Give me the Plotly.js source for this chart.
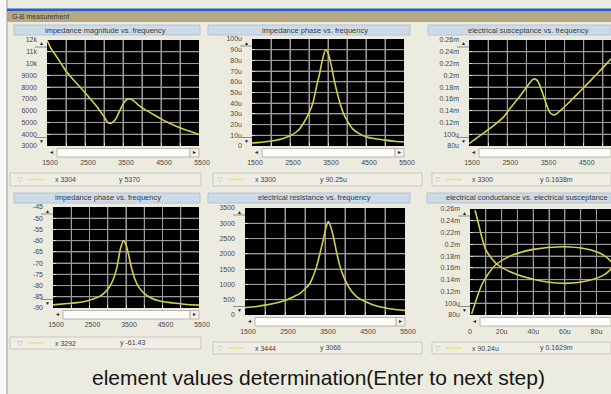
<!DOCTYPE html>
<html><head><meta charset="utf-8">
<script src="https://cdn.plot.ly/plotly-3.0.1.min.js"></script>
<style>html,body{margin:0;padding:0;background:#ecebdf;overflow:hidden}#chart{width:611px;height:394px}</style>
</head><body><div id="chart"></div>
<script>
// ---------- data ----------
// panel 1: impedance magnitude (ohm) vs frequency (Hz)
const freq1 = [1500,1600,1750,1900,2000,2200,2400,2600,2800,3000,3100,3150,3200,3300,3400,3500,3600,3650,3700,3800,3900,4100,4300,4500,4700,4900,5100,5300,5500];
const zmag  = [12000,11300,10600,9850,9370,8600,7900,7150,6400,5500,5000,4920,4950,5250,5900,6550,6950,7000,6980,6780,6500,6050,5680,5300,4970,4680,4430,4200,3970];
// panel 2: values in micro units vs frequency
const freq2 = [1500,1800,2100,2300,2500,2700,2850,3000,3100,3200,3275,3350,3440,3500,3575,3650,3725,3800,3900,4000,4150,4300,4500,4700,5000,5250,5500];
const cond2 = [2.8,3.8,5.2,6.8,9.5,14,21,31,40,56,67,80,90,87,77,64,52,42,31,24,16,12,8.7,7,5.5,4.5,3.8];
// panel 3: electrical susceptance (micro S) vs frequency
const freq3 = [1500,1800,2100,2400,2600,2800,2950,3050,3150,3200,3250,3300,3350,3450,3550,3625,3700,3775,3900,4100,4300,4600,4900,5200,5500];
const susc3 = [84,98,112.5,129,146,162,175,184,192,194,193,190,183,165,146,136,133,134,141,153,166,186,206,227,248];
// panel 4: impedance phase (deg) vs frequency
const freq4 = [1500,1900,2300,2600,2800,2950,3060,3150,3250,3350,3430,3500,3560,3650,3740,3840,4000,4160,4400,4800,5100,5500];
const phase4 = [-88.6,-88.0,-87.3,-86.0,-84.6,-82.6,-80.2,-77.3,-72,-63.5,-60,-61.8,-65.5,-72,-77,-80.5,-83.5,-85.3,-86.8,-87.8,-88.3,-88.7];
// panel 5: electrical resistance (ohm) vs frequency
const freq5 = [1500,1800,2040,2300,2540,2700,2875,3000,3125,3200,3290,3380,3460,3530,3583,3640,3710,3790,3875,3960,4040,4150,4290,4500,4710,5000,5210,5500];
const res5  = [240,280,330,400,490,590,710,850,1040,1250,1590,2050,2480,2880,3060,2900,2550,2050,1590,1270,1040,800,600,440,330,240,190,150];
// panel 6: conductance (x, micro S) vs susceptance (y, micro S), along the trace
const cond6 = [1.0,2.5,4.6,7.4,11,16.8,25.3,40,59,73.7,84.2,90.5,85.3,73.7,59,40,25.3,16.8,13.7,10.1,7.4,5.3,3.2];
const susc6 = [81.7,94,111,131,148,166.6,180,191.5,196,192,182,165,149,137.7,133.8,140.6,153.5,166.6,176,190,213,235.7,258];

// tick labels
const fTicks = [1500,2000,2500,3000,3500,4000,4500,5000,5500];
const fText  = ['1500','','2500','','3500','','4500','','5500'];
const y1Ticks = [3000,4000,5000,6000,7000,8000,9000,10000,11000,12000];
const y1Text  = ['3000','4000','5000','6000','7000','8000','9000','10k','11k','12k'];
const y2Ticks = [0,10,20,30,40,50,60,70,80,90,100];
const y2Text  = ['0','10u','20u','30u','40u','50u','60u','70u','80u','90u','100u'];
const y3Ticks = [80,100,120,140,160,180,200,220,240,260];
const y3Text  = ['80u','100u','0.12m','0.14m','0.16m','0.18m','0.2m','0.22m','0.24m','0.26m'];
const y4Ticks = [-90,-85,-80,-75,-70,-65,-60,-55,-50,-45];
const y4Text  = ['-90','-85','-80','-75','-70','-65','-60','-55','-50','-45'];
const y5Ticks = [0,500,1000,1500,2000,2500,3000,3500];
const y5Text  = ['0','500','1000','1500','2000','2500','3000','3500'];
const x6Ticks = [0,10,20,30,40,50,60,70,80,90];
const x6Text  = ['0','','20u','','40u','','60u','','80u',''];

const titles = ['impedance magnitude vs. frequency','impedance phase vs. frequency','electrical susceptance vs. frequency',
                'impedance phase vs. frequency','electrical resistance vs. frequency','electrical conductance vs. electrical susceptance'];
const statusX = ['x 3304','x 3300','x 3300','x 3292','x 3444','x 90.24u'];
const statusY = ['y 5370','y 90.25u','y 0.1638m','y -61.43','y 3066','y 0.1629m'];
const windowTitle = 'G-B measurement';
const bigText = 'element values determination(Enter to next step)';

// ---------- layout helpers ----------
const W=611,H=394;
const X=p=>p/W, Y=p=>1-p/H;
const FONT='Liberation Sans, Arial, sans-serif';
const tf={family:FONT,size:7,color:'#4a4a4a'};
const CURVE='#d2d24a';
const GRID='#9c9c9c';

// plot boxes in px [x0,x1,y0,y1]
const B=[[47,199,40,146],[252,404,39,146],[469,611,40,146],[53,199,207,308],[245,405,208,315],[470,611,209,315]];

function base(isX){
  const o={showgrid:true,gridcolor:GRID,gridwidth:1,zeroline:false,showline:false,
    ticks:'inside',ticklen:3,tickcolor:'#dddddd',tickwidth:1,tickfont:tf,fixedrange:true,
    ticklabelstandoff:isX?11:9,ticklabeloverflow:'allow'};
  if(isX) o.ticklabelshift=3;
  return o;
}
function xa(i,range,tv,tt){
  const b=B[i];
  return Object.assign(base(true),{domain:[X(b[0]),X(b[1])],range:range,anchor:'y'+(i?i+1:''),tickmode:'array',tickvals:tv,ticktext:tt});
}
function ya(i,range,tv,tt){
  const b=B[i];
  return Object.assign(base(false),{domain:[Y(b[3]),Y(b[2])],range:range,anchor:'x'+(i?i+1:''),tickmode:'array',tickvals:tv,ticktext:tt});
}

const shapes=[],ann=[];
function rect(x0,y0,x1,y1,fill,lc,lw){shapes.push({type:'rect',xref:'paper',yref:'paper',x0:X(x0),x1:X(x1),y0:Y(y1),y1:Y(y0),fillcolor:fill,line:{color:lc||'rgba(0,0,0,0)',width:lc?(lw||1):0}});}
function line(x0,y0,x1,y1,c,w){shapes.push({type:'line',xref:'paper',yref:'paper',x0:X(x0),x1:X(x1),y0:Y(y0),y1:Y(y1),line:{color:c,width:w||1}});}
function txt(x,y,s,size,color,xa_){ann.push({xref:'paper',yref:'paper',x:X(x),y:Y(y),text:s,showarrow:false,font:{family:FONT,size:size,color:color},xanchor:xa_||'center',yanchor:'middle'});}

// window chrome
rect(0,0,7,394,'#f7f7f5');
line(7,0,7,394,'#9a9a9a',1);
rect(7,8.5,611,11.5,'#2a5bd0');
rect(7,11.5,611,22,'#b5a983');
txt(10,17,windowTitle,7,'#3a3a3a','left');

// panel headers
const hdr=[[14,200,25,35,105],[208,410,25,35,315],[428,611,25,35,528],[14,200,193,203,108],[208,410,193,203,314],[427,611,193,203,527]];
hdr.forEach((h,i)=>{rect(h[0],h[2],h[1],h[3],'#cddbe8','#b9c5d0');txt(h[4],(h[2]+h[3])/2,titles[i],7.5,'#3a3a3a');});

// scroll widgets around each plot
B.forEach((b,i)=>{
  const [x0,x1,y0,y1]=b;
  line(x0-12,y0+7,x0,y0+7,'#8c8c8c',1);
  txt(x0-6,y0+3.5,'▲',5,'#222');
  line(x0-12,y1-8.5,x0,y1-8.5,'#8c8c8c',1);
  txt(x0-6,y1-5,'▼',5,'#222');
  txt(x0+4.5,y1+6,'◄',5,'#222');
  const right=(x1>=611);
  rect(x0+10,y1+2.5,right?611:x1-9,y1+11,'#fdfdfb','#b9b7aa');
  if(!right){rect(x1-9,y1+2.5,x1,y1+11,'#f3f2ea','#b9b7aa');txt(x1-4.5,y1+6,'►',5,'#222');}
});

// status bars
const st=[[10,201,173,186,20,27,45,53,117],[213,422,173,186,220,228,244,253,318],[432,611,173,186,438,446,462,470,538],
          [10,201,337,349,20,27,45,53,118],[213,422,342,354,220,228,244,253,318],[432,611,342,354,438,446,462,470,538]];
st.forEach((s,i)=>{
  const cy=(s[2]+s[3])/2;
  rect(s[0],s[2],s[1],s[3],'#efeee6','#cac8b8');
  txt(s[4],cy,'▽',7,'#b4b4b4');
  line(s[5],cy,s[6],cy,'#e6e69a',2);
  txt(s[7],cy,statusX[i],7,'#444','left');
  txt(s[8],cy,statusY[i],7,'#444','left');
});

// bottom instruction text
txt(318,377,bigText,21,'#141414');

// ---------- axes ranges ----------
const R=[
  {x:[1500,5500],y:[3000,12000],xt:fTicks,xl:fText,yt:y1Ticks,yl:y1Text},
  {x:[1500,5500],y:[0,100],xt:fTicks,xl:fText,yt:y2Ticks,yl:y2Text},
  {x:[1500,5212],y:[80,260],xt:fTicks,xl:fText,yt:y3Ticks,yl:y3Text},
  {x:[1500,5500],y:[-90,-45],xt:fTicks,xl:fText,yt:y4Ticks,yl:y4Text},
  {x:[1500,5500],y:[0,3500],xt:fTicks,xl:fText,yt:y5Ticks,yl:y5Text},
  {x:[0,89.2],y:[80,260],xt:x6Ticks,xl:x6Text,yt:y3Ticks,yl:y3Text}
];

// grid line traces built from the tick arrays (drawn under the curves)
function gridTrace(i){
  const r=R[i], gx=[], gy=[];
  r.xt.forEach(v=>{ if(v>r.x[0]&&v<r.x[1]){gx.push(v,v,null);gy.push(r.y[0],r.y[1],null);} });
  r.yt.forEach(v=>{ if(v>r.y[0]&&v<r.y[1]){gx.push(r.x[0],r.x[1],null);gy.push(v,v,null);} });
  const s=i?String(i+1):'';
  return {x:gx,y:gy,xaxis:'x'+s,yaxis:'y'+s,mode:'lines',line:{color:GRID,width:1},hoverinfo:'skip',connectgaps:false};
}

const L={color:CURVE,width:1.6,shape:'spline',smoothing:0.8};
const curves=[[freq1,zmag],[freq2,cond2],[freq3,susc3],[freq4,phase4],[freq5,res5],[cond6,susc6]];
const data=[];
for(let i=0;i<6;i++) data.push(gridTrace(i));
curves.forEach((c,i)=>{const s=i?String(i+1):''; data.push({x:c[0],y:c[1],xaxis:'x'+s,yaxis:'y'+s,mode:'lines',line:L,hoverinfo:'skip'});});

const layout={
  width:W,height:H,margin:{l:0,r:0,t:0,b:0},
  paper_bgcolor:'#ecebdf',plot_bgcolor:'#000000',showlegend:false,
  shapes:shapes,annotations:ann
};
R.forEach((r,i)=>{
  const s=i?String(i+1):'';
  layout['xaxis'+s]=xa(i,r.x,r.xt,r.xl);
  layout['yaxis'+s]=ya(i,r.y,r.yt,r.yl);
});
layout.xaxis6.ticklabelshift=0;
Plotly.newPlot('chart',data,layout,{staticPlot:true,displayModeBar:false});
</script></body></html>
